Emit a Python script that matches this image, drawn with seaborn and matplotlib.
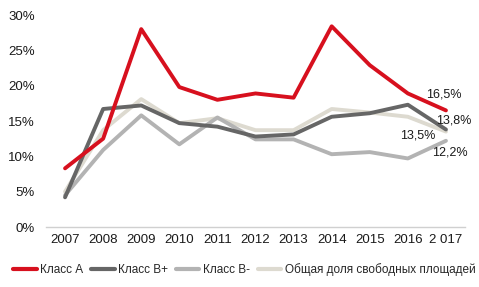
import matplotlib
matplotlib.use("Agg")
import matplotlib.pyplot as plt
import seaborn as sns
import pandas as pd
from matplotlib.ticker import FuncFormatter

years = ["2007", "2008", "2009", "2010", "2011", "2012", "2013", "2014", "2015", "2016", "2 017"]
class_a = [8.3, 12.5, 28.0, 19.8, 18.0, 18.9, 18.3, 28.4, 22.9, 18.9, 16.5]
class_bp = [4.2, 16.7, 17.2, 14.7, 14.2, 12.8, 13.1, 15.6, 16.1, 17.3, 13.8]
class_bm = [4.5, 10.9, 15.8, 11.7, 15.5, 12.4, 12.4, 10.3, 10.6, 9.7, 12.2]
total = [5.0, 13.7, 18.1, 14.7, 15.4, 13.7, 13.7, 16.7, 16.2, 15.6, 13.5]
series_names = ["Класс А", "Класс В+", "Класс В-", "Общая доля свободных площадей"]
end_labels = ["16,5%", "13,8%", "12,2%", "13,5%"]

colors = ["#D7101E", "#666666", "#B3B3B3", "#DDDAD0"]

sns.set_theme(style="white")
plt.rcParams['font.family'] = ['Liberation Sans', 'DejaVu Sans']

rows = []
for name, vals in zip(series_names, [class_a, class_bp, class_bm, total]):
    for i, v in enumerate(vals):
        rows.append({"x": i, "year": years[i], "value": v, "series": name})
df = pd.DataFrame(rows)

fig = plt.figure(figsize=(4.79, 2.87), dpi=100)
ax = fig.add_axes([46/479, 1-227/287, (465-46)/479, (227-15)/287])

order = [3, 2, 1, 0]
for k in order:
    sub = df[df["series"] == series_names[k]]
    sns.lineplot(data=sub, x="x", y="value", ax=ax, color=colors[k], linewidth=2.8,
                 legend=False, zorder=3 + (3 - k))

ax.set_xlim(-0.5, len(years) - 0.5)
ax.set_ylim(0, 30)
ax.set_yticks([0, 5, 10, 15, 20, 25, 30])
ax.yaxis.set_major_formatter(FuncFormatter(lambda v, p: f"{int(v)}%"))
ax.set_xticks(range(len(years)))
ax.set_xticklabels(years)
ax.set_xlabel("")
ax.set_ylabel("")
ax.tick_params(axis="both", labelsize=9.5, colors="#1a1a1a", length=0)
ax.tick_params(axis="y", pad=8)
ax.tick_params(axis="x", pad=5)
for s in ["top", "right", "left"]:
    ax.spines[s].set_visible(False)
ax.spines["bottom"].set_color("#D0D0D0")
ax.spines["bottom"].set_linewidth(1)

lab_kw = dict(fontsize=9, color="#1a1a1a", va="center", ha="left", zorder=10)
ax.text(9.48, 18.7, end_labels[0], **lab_kw)
ax.text(9.74, 15.1, end_labels[1], **lab_kw)
ax.text(9.63, 10.5, end_labels[2], **lab_kw)
ax.text(8.80, 12.9, end_labels[3], **lab_kw)

handles = [plt.Line2D([0], [0], color=c, linewidth=3) for c in colors]
fig.legend(handles, series_names, loc="lower center", bbox_to_anchor=(0.51, 0.025), ncol=4,
           frameon=False, fontsize=8.5, handlelength=2.0, handletextpad=0.3,
           columnspacing=0.65, borderpad=0.2, borderaxespad=0.1)

fig.savefig("out.png", dpi=100)
